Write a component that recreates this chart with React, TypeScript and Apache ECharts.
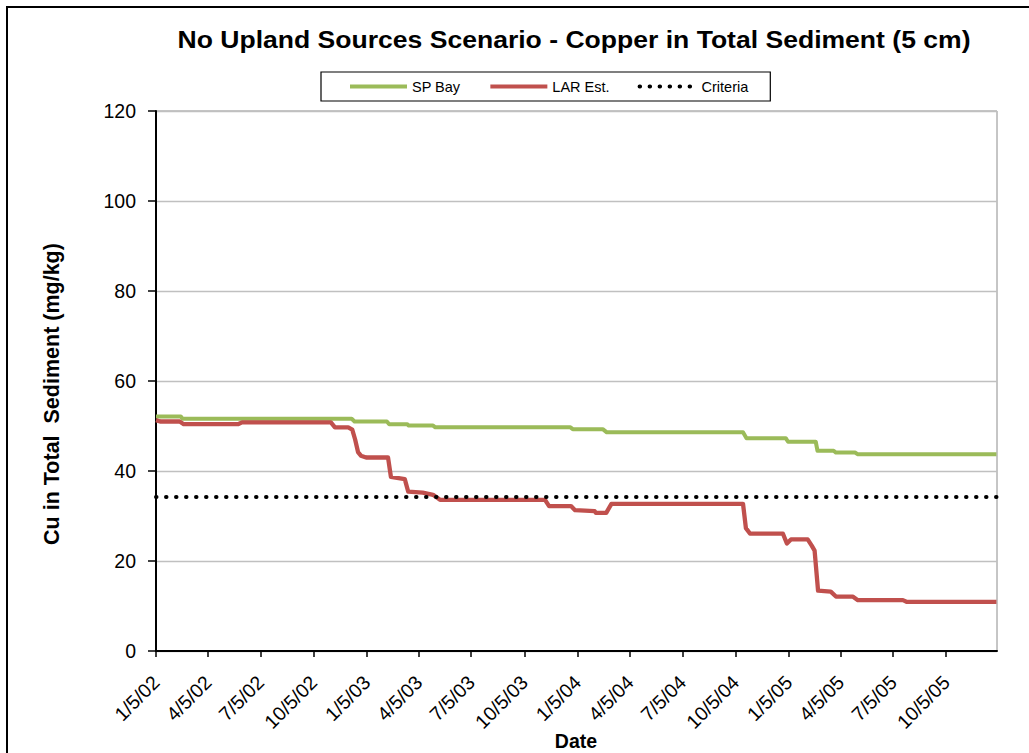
import React, { useEffect, useRef } from "react";
import * as echarts from "echarts";

const FONT = '"Liberation Sans", Arial, Helvetica, sans-serif';

const titleText = "No Upland Sources Scenario - Copper in Total Sediment (5 cm)";
const yAxisTitle = "Cu in Total  Sediment (mg/kg)";
const xAxisTitle = "Date";

const axisStart = "2002-01-05";
const axisEnd = "2006-01-01";

const tickDates = [
  "2002-01-05", "2002-04-05", "2002-07-05", "2002-10-05",
  "2003-01-05", "2003-04-05", "2003-07-05", "2003-10-05",
  "2004-01-05", "2004-04-05", "2004-07-05", "2004-10-05",
  "2005-01-05", "2005-04-05", "2005-07-05", "2005-10-05",
];

const yTicks = [0, 20, 40, 60, 80, 100, 120];

const spBay: [string, number][] = [
  ["2002-01-05", 52.1], ["2002-02-17", 52.1], ["2002-02-20", 51.6],
  ["2002-12-10", 51.6], ["2002-12-15", 51.0], ["2003-02-09", 51.0],
  ["2003-02-13", 50.4], ["2003-03-16", 50.4], ["2003-03-19", 50.1],
  ["2003-04-30", 50.1], ["2003-05-04", 49.7], ["2003-12-24", 49.7],
  ["2003-12-28", 49.3], ["2004-02-18", 49.3], ["2004-02-25", 48.6],
  ["2004-10-18", 48.6], ["2004-10-24", 47.3], ["2004-12-31", 47.3],
  ["2005-01-04", 46.5], ["2005-02-21", 46.5], ["2005-02-24", 44.5],
  ["2005-03-24", 44.5], ["2005-03-28", 44.1], ["2005-04-30", 44.1],
  ["2005-05-05", 43.7], ["2005-12-31", 43.7],
];

const larEst: [string, number][] = [
  ["2002-01-05", 51.3], ["2002-01-12", 51.0], ["2002-02-15", 51.0],
  ["2002-02-22", 50.4], ["2002-05-27", 50.4], ["2002-06-03", 50.8],
  ["2002-11-04", 50.8], ["2002-11-11", 49.7], ["2002-12-04", 49.7],
  ["2002-12-11", 49.2], ["2002-12-16", 47.0], ["2002-12-21", 44.2],
  ["2002-12-26", 43.4], ["2003-01-04", 43.0], ["2003-02-11", 43.0],
  ["2003-02-16", 38.7], ["2003-03-12", 38.2], ["2003-03-18", 35.4],
  ["2003-04-12", 35.2], ["2003-04-30", 34.7], ["2003-05-12", 33.6],
  ["2003-11-10", 33.6], ["2003-11-17", 32.2], ["2003-12-25", 32.2],
  ["2004-01-01", 31.3], ["2004-02-04", 31.1], ["2004-02-06", 30.7],
  ["2004-02-24", 30.7], ["2004-03-04", 32.7], ["2004-10-18", 32.7],
  ["2004-10-23", 27.3], ["2004-10-30", 26.1], ["2004-12-26", 26.1],
  ["2005-01-02", 23.9], ["2005-01-09", 24.8], ["2005-02-07", 24.8],
  ["2005-02-14", 23.4], ["2005-02-19", 22.3], ["2005-02-25", 13.4],
  ["2005-03-19", 13.2], ["2005-03-28", 12.1], ["2005-04-26", 12.1],
  ["2005-05-05", 11.3], ["2005-07-22", 11.3], ["2005-07-29", 10.9],
  ["2005-12-31", 10.9],
];

const criteriaValue = 34.2;
const criteriaDates = ["2002-01-05", "2006-01-01"];

const DAY = 86400000;
const toTime = (s: string) => {
  const [y, m, d] = s.split("-").map(Number);
  return Date.UTC(y, m - 1, d);
};
const START = toTime(axisStart);
// x positions are days elapsed since the axis start date
const toDay = (s: string) => Math.round((toTime(s) - START) / DAY);

const fmtDay = (v: number) => {
  const d = new Date(START + Math.round(v) * DAY);
  return `${d.getUTCMonth() + 1}/${d.getUTCDate()}/${String(d.getUTCFullYear()).slice(2)}`;
};

export default function App() {
  const ref = useRef<HTMLDivElement>(null);

  useEffect(() => {
    if (!ref.current) return;
    const chart = echarts.init(ref.current, undefined, { renderer: "svg" });
    const tickDays = tickDates.map(toDay);

    chart.setOption({
      animation: false,
      backgroundColor: "#fff",
      textStyle: { fontFamily: FONT },
      grid: {
        left: 156,
        right: 32,
        top: 111,
        bottom: 102,
        show: true,
        borderColor: "#8c8c8c",
        borderWidth: 1,
        backgroundColor: "transparent",
      },
      legend: {
        left: 321,
        top: 72,
        orient: "horizontal",
        padding: [7, 22, 7, 27],
        itemWidth: 57,
        itemHeight: 14,
        itemGap: 28,
        borderColor: "#000",
        borderWidth: 1.2,
        backgroundColor: "#fff",
        textStyle: { fontFamily: FONT, fontSize: 14.5, color: "#000" },
        itemStyle: { opacity: 0 },
        lineStyle: { width: 4 },
        data: ["SP Bay", "LAR Est.", "Criteria"],
      },
      xAxis: {
        type: "value",
        min: 0,
        max: toDay(axisEnd),
        axisLine: { show: true, lineStyle: { color: "#000", width: 2 } },
        axisTick: {
          show: true,
          length: 6,
          inside: false,
          customValues: tickDays,
          lineStyle: { color: "#000", width: 1.5 },
        },
        axisLabel: {
          customValues: tickDays,
          rotate: 45,
          margin: 28,
          fontFamily: FONT,
          fontSize: 19.5,
          color: "#000",
          formatter: (v: number) => fmtDay(v),
        },
        splitLine: { show: false },
      },
      yAxis: {
        type: "value",
        min: yTicks[0],
        max: yTicks[yTicks.length - 1],
        interval: 20,
        axisLine: { show: true, lineStyle: { color: "#000", width: 2 } },
        axisTick: { show: true, length: 8, lineStyle: { color: "#000", width: 1.5 } },
        axisLabel: {
          margin: 20,
          fontFamily: FONT,
          fontSize: 19.5,
          color: "#000",
        },
        splitLine: { show: true, lineStyle: { color: "#c0c0c0", width: 1.3 } },
      },
      series: [
        {
          name: "SP Bay",
          type: "line",
          symbol: "none",
          data: spBay.map(([d, v]) => [toDay(d), v]),
          lineStyle: { color: "#9BBB59", width: 4, join: "round" },
          itemStyle: { color: "#9BBB59" },
        },
        {
          name: "LAR Est.",
          type: "line",
          symbol: "none",
          data: larEst.map(([d, v]) => [toDay(d), v]),
          lineStyle: { color: "#C0504D", width: 4.3, join: "round" },
          itemStyle: { color: "#C0504D" },
        },
        {
          name: "Criteria",
          type: "line",
          symbol: "none",
          data: criteriaDates.map((d) => [toDay(d), criteriaValue]),
          lineStyle: { color: "#000", width: 4, type: [0.5, 9.5], cap: "round" },
          itemStyle: { color: "#000" },
        },
      ],
      graphic: [
        {
          type: "rect",
          silent: true,
          shape: { x: 7, y: 7, width: 1100, height: 900 },
          style: { fill: "none", stroke: "#000", lineWidth: 2 },
        },
        {
          type: "text",
          x: 574,
          y: 40,
          scaleX: 1.13,
          style: {
            text: titleText,
            font: `bold 23.5px ${FONT}`,
            fill: "#000",
            align: "center",
            verticalAlign: "middle",
          },
        },
        {
          type: "text",
          x: 52,
          y: 394,
          rotation: Math.PI / 2,
          style: {
            text: yAxisTitle,
            font: `bold 21.5px ${FONT}`,
            fill: "#000",
            align: "center",
            verticalAlign: "middle",
          },
        },
        {
          type: "text",
          x: 576,
          y: 741,
          style: {
            text: xAxisTitle,
            font: `bold 19.5px ${FONT}`,
            fill: "#000",
            align: "center",
            verticalAlign: "middle",
          },
        },
      ],
    });

    return () => chart.dispose();
  }, []);

  return (
    <div
      ref={ref}
      style={{ position: "absolute", left: 0, top: 0, width: 1029, height: 753 }}
    />
  );
}
